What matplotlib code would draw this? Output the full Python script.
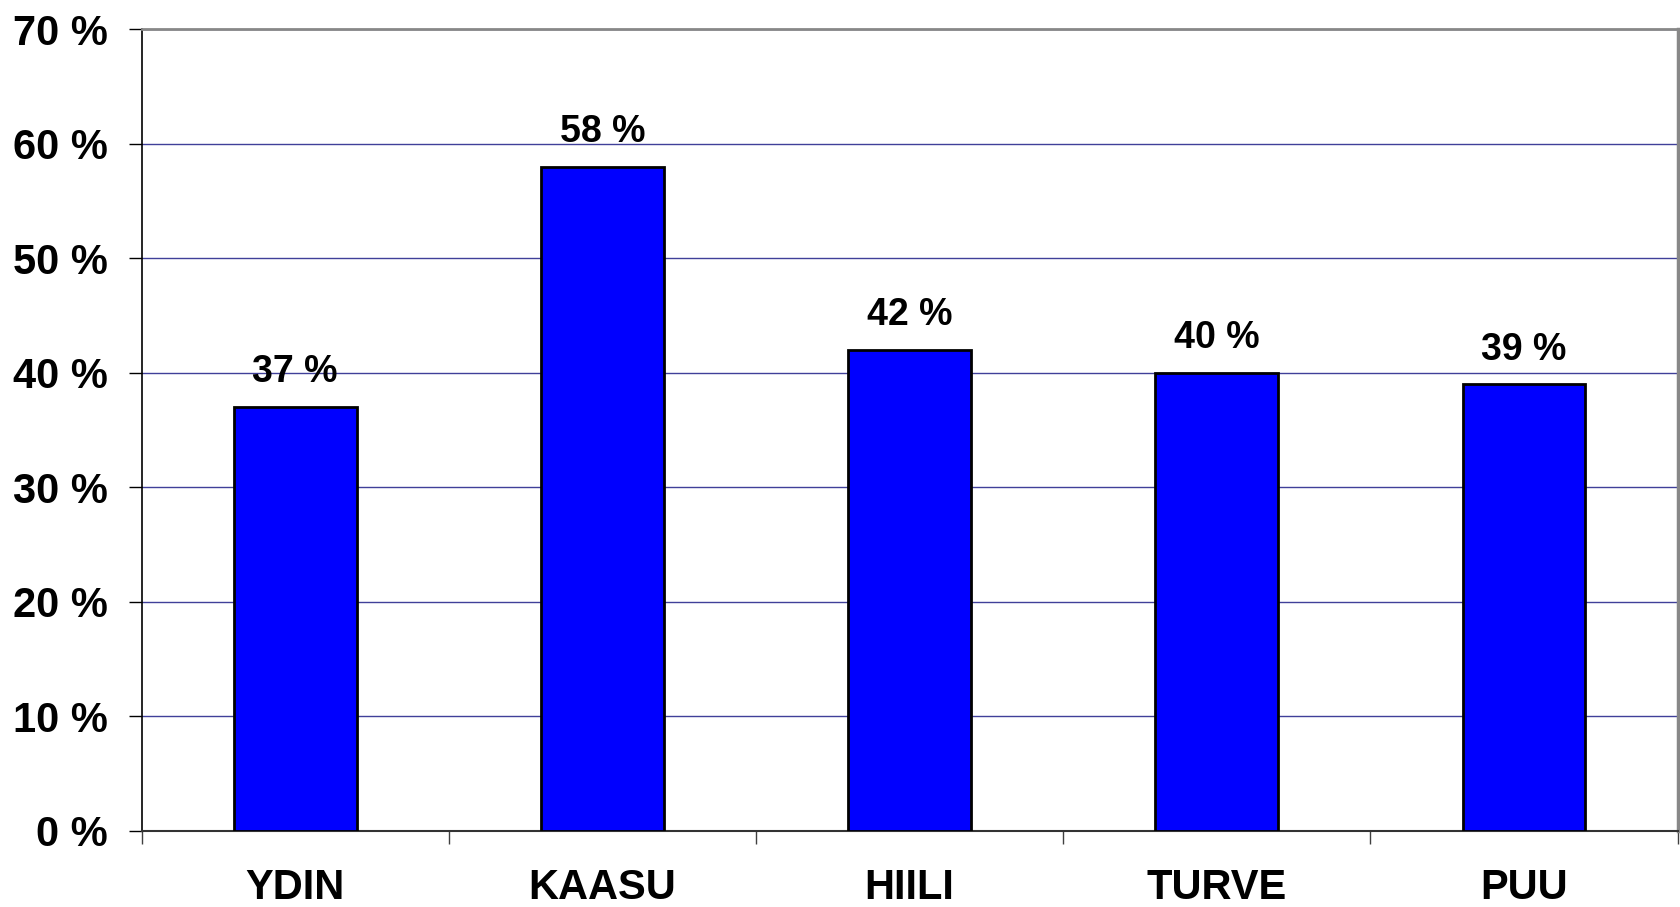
import matplotlib
matplotlib.use("Agg")
import matplotlib.pyplot as plt
from matplotlib.ticker import FixedLocator

categories = ["YDIN", "KAASU", "HIILI", "TURVE", "PUU"]
values = [37, 58, 42, 40, 39]
yticks = [0, 10, 20, 30, 40, 50, 60, 70]

plt.rcParams["font.family"] = ["Liberation Sans", "DejaVu Sans"]
plt.rcParams["font.weight"] = "bold"

fig = plt.figure(figsize=(16.81, 9.07), dpi=100)
ax = fig.add_axes([0.0842, 0.0838, 0.9138, 0.8842])

x = list(range(len(categories)))
bars = ax.bar(x, values, width=0.4, color="#0000FF", edgecolor="black", linewidth=2, zorder=3)

# value labels over the bars
for b, v in zip(bars, values):
    ax.annotate(f"{v} %", (b.get_x() + b.get_width() / 2, v), xytext=(0, 12),
                textcoords="offset points", ha="center", va="bottom",
                fontsize=27, fontweight="bold", zorder=4)

ax.set_xlim(-0.5, len(categories) - 0.5)
ax.set_ylim(0, 70)
ax.set_yticks(yticks)
ax.set_yticklabels([f"{t} %" for t in yticks], fontsize=30, fontweight="bold")
ax.yaxis.grid(True, color="#404099", linewidth=1, zorder=0)
ax.set_axisbelow(True)

ax.set_xticks(x)
ax.set_xticklabels(categories, fontsize=30, fontweight="bold")
ax.tick_params(axis="x", which="major", length=0, pad=27)
ax.xaxis.set_minor_locator(FixedLocator([i - 0.5 for i in range(len(categories) + 1)]))
ax.tick_params(axis="x", which="minor", length=9.5, width=1, color="#404040", direction="out")
ax.tick_params(axis="y", length=9.5, width=1, pad=15, direction="out")

ax.spines["left"].set_color("black")
ax.spines["left"].set_linewidth(1.2)
ax.spines["bottom"].set_color("#333333")
ax.spines["bottom"].set_linewidth(1.5)
ax.spines["top"].set_color("#888888")
ax.spines["top"].set_linewidth(2)
ax.spines["right"].set_color("#888888")
ax.spines["right"].set_linewidth(2.5)

fig.savefig("out.png", dpi=100)
